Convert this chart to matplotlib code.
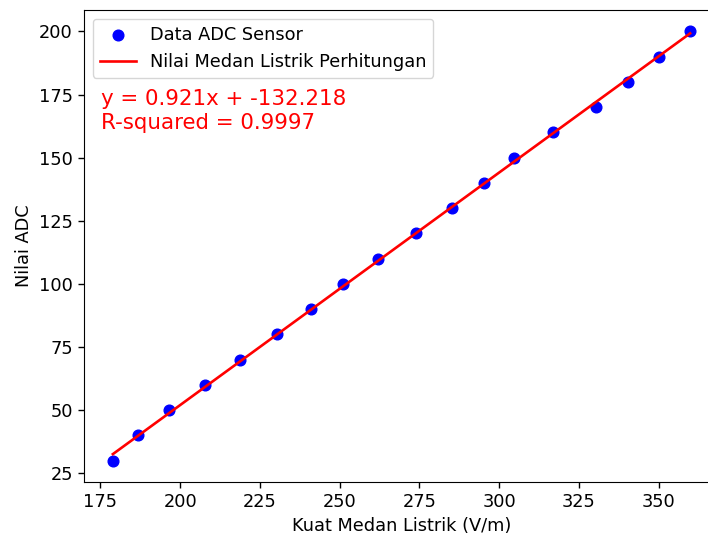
import numpy as np
import matplotlib.pyplot as plt

# Data
kuat_medan = [178.9, 186.7, 196.6, 207.9, 218.9, 230.3, 241.1, 251.0, 261.9,
              274.0, 285.3, 295.4, 304.8, 316.9, 330.4, 340.5, 350.2, 359.9]
nilai_adc = [30, 40, 50, 60, 70, 80, 90, 100, 110,
             120, 130, 140, 150, 160, 170, 180, 190, 200]

slope = 0.921
intercept = -132.218
r_squared = 0.9997

x = np.array(kuat_medan)
y = np.array(nilai_adc)
x_fit = np.array([x.min(), x.max()])
y_fit = slope * x_fit + intercept

fs = 12.8
fig = plt.figure(figsize=(7.08, 5.38), dpi=100)
# right edge of the axes falls outside the picture, as in the reference
ax = fig.add_axes([84 / 708, 56 / 538, 635 / 708, 472 / 538])

ax.scatter(x, y, color='blue', s=59, label='Data ADC Sensor', zorder=2)
ax.plot(x_fit, y_fit, color='red', linewidth=1.9,
        label='Nilai Medan Listrik Perhitungan', zorder=3)

ax.text(0.026, 0.832, f'y = {slope}x + {intercept}\nR-squared = {r_squared}',
        transform=ax.transAxes, color='red', fontsize=15.4, va='top',
        linespacing=1.25)

ax.set_xlabel('Kuat Medan Listrik (V/m)', fontsize=fs)
ax.set_ylabel('Nilai ADC', fontsize=fs)
ax.tick_params(labelsize=fs, length=4.5, width=1)
ax.legend(loc='upper left', fontsize=fs)

fig.savefig('out.png', dpi=100)
